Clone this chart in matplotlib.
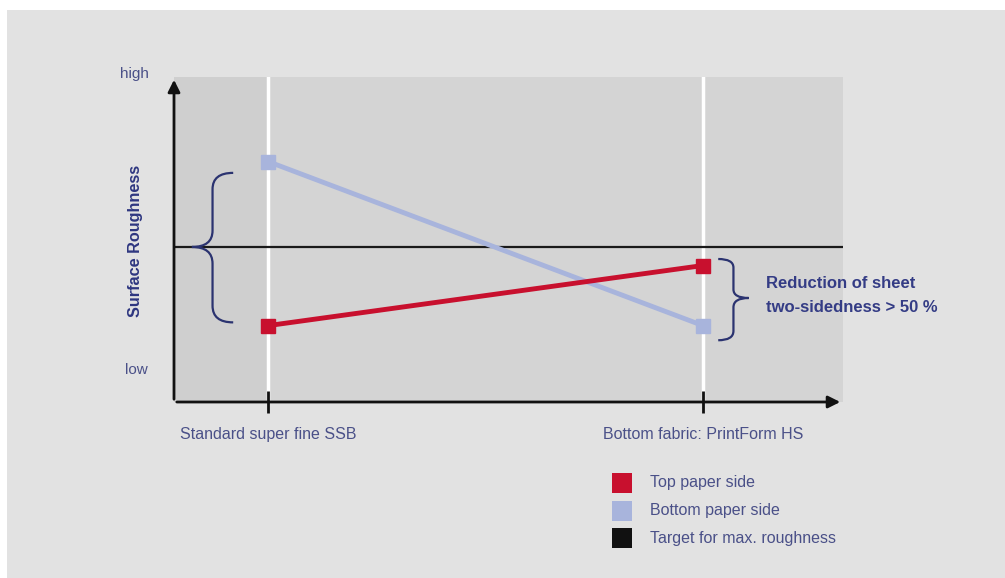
import matplotlib.pyplot as plt
from matplotlib.patches import Rectangle, PathPatch
from matplotlib.path import Path

# categories on the x axis
categories = ["Standard super fine SSB", "Bottom fabric: PrintForm HS"]
# roughness values (0 = low, 10 = high)
top_side = [2.35, 4.2]
bottom_side = [7.4, 2.35]
target = 4.77

legend_labels = ["Top paper side", "Bottom paper side", "Target for max. roughness"]
legend_colors = ["#c8102e", "#a8b4dc", "#111111"]
note = "Reduction of sheet\ntwo-sidedness > 50 %"

plt.rcParams['font.family'] = ['Liberation Sans', 'DejaVu Sans']

W, H = 1005, 578
fig = plt.figure(figsize=(W / 100, H / 100), dpi=100, facecolor="white")
fig.patches.append(Rectangle((7 / W, 0), 1, 1 - 10 / H, transform=fig.transFigure,
                             facecolor="#e2e2e2", edgecolor="none", zorder=-10))

# axes box in pixels: left 174, right 843, top 77, bottom 402
ax = fig.add_axes([174 / W, 1 - 402 / H, (843 - 174) / W, (402 - 77) / H])
ax.set_facecolor("#d4d4d4")
x0 = (268 - 174) / 435
ax.set_xlim(-x0, (843 - 268) / 435)
ax.set_ylim(0, 10)
for s in ax.spines.values():
    s.set_visible(False)

# slightly darker strip left of the first category
ax.axvspan(-x0, 0, color="#cfcfcf", zorder=0, lw=0)

ax.axvline(0, color="white", lw=2.5, zorder=1)
ax.axvline(1, color="white", lw=2.5, zorder=1)
ax.axhline(target, color="#1a1a1a", lw=1.6, zorder=2)

xs = [0, 1]
ax.plot(xs, bottom_side, color=legend_colors[1], lw=3.5, marker="s", ms=10, zorder=3)
ax.plot(xs, top_side, color=legend_colors[0], lw=3.5, marker="s", ms=10, zorder=4)

# axes with arrows
ax.annotate("", xy=(0, 1.0), xytext=(0, 0), xycoords="axes fraction",
            arrowprops=dict(arrowstyle="-|>", color="#111111", lw=2, mutation_scale=18),
            annotation_clip=False)
ax.annotate("", xy=(1.0, 0), xytext=(0, 0), xycoords="axes fraction",
            arrowprops=dict(arrowstyle="-|>", color="#111111", lw=2, mutation_scale=18),
            annotation_clip=False)

ax.set_xticks(xs)
ax.set_xticklabels(categories, fontsize=11.5, color="#4a5088")
ax.tick_params(axis="x", direction="inout", length=16, width=2, color="#111111", pad=10)
ax.set_yticks([])

def brace(ax, xe, xt, y1, y2, ym, color="#2b3370"):
    # curly brace: ends at x=xe (top y1, bottom y2), tip at (xt, ym)
    xm = xe + (xt - xe) * 0.5
    d1 = (y1 - ym) * 0.22
    d2 = (ym - y2) * 0.22
    verts = [(xe, y1), (xm, y1), (xm, y1 - d1), (xm, ym + d1),
             (xm, ym), (xt, ym),
             (xm, ym), (xm, ym - d2), (xm, y2 + d2),
             (xm, y2), (xe, y2)]
    codes = [Path.MOVETO, Path.CURVE3, Path.CURVE3, Path.LINETO,
             Path.CURVE3, Path.CURVE3,
             Path.CURVE3, Path.CURVE3, Path.LINETO,
             Path.CURVE3, Path.CURVE3]
    ax.add_patch(PathPatch(Path(verts, codes), fill=False, edgecolor=color, lw=1.6,
                           clip_on=False, zorder=5))

brace(ax, -0.080, -0.175, 7.05, 2.45, target)
brace(ax, 1.035, 1.105, 4.4, 1.9, 3.2)

fig.text(766 / W, 1 - 295 / H, note, fontsize=12, fontweight="bold", color="#343c85",
         va="center", ha="left", linespacing=1.75)

fig.text(134 / W, 1 - 74 / H, "high", fontsize=11, color="#4a5088", ha="center", va="center")
fig.text(136 / W, 1 - 370 / H, "low", fontsize=11, color="#4a5088", ha="center", va="center")
fig.text(135 / W, 1 - 241 / H, "Surface Roughness", fontsize=11.7, fontweight="bold",
         color="#2e3680", rotation=90, ha="center", va="center")

for i, (lab, col) in enumerate(zip(legend_labels, legend_colors)):
    yc = 483 + i * 27.5
    fig.patches.append(Rectangle((612 / W, 1 - (yc + 10) / H), 20 / W, 20 / H,
                                 transform=fig.transFigure, facecolor=col, edgecolor="none"))
    fig.text(650 / W, 1 - yc / H, lab, fontsize=11.5, color="#4a5088", ha="left", va="center")

fig.savefig("out.png", dpi=100, facecolor=fig.get_facecolor())
